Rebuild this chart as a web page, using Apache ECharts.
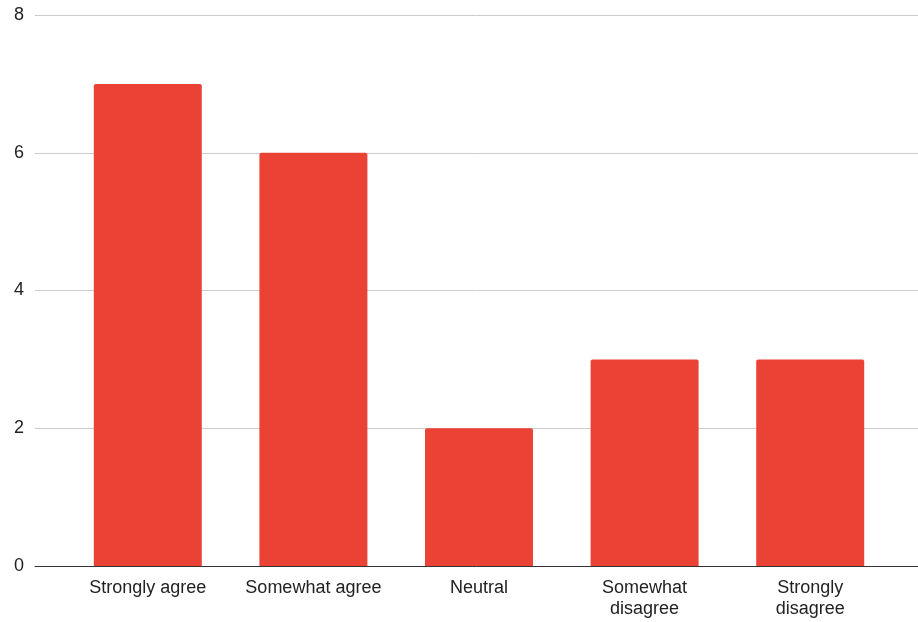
<!DOCTYPE html>
<html>
<head>
<meta charset="utf-8">
<script src="https://cdn.jsdelivr.net/npm/echarts@6/dist/echarts.min.js"></script>
<style>
  html, body { margin: 0; padding: 0; background: #fff; }
  #chart { width: 918px; height: 622px; }
</style>
</head>
<body>
<div id="chart"></div>
<script>
// survey answers
const categories = ['Strongly agree', 'Somewhat agree', 'Neutral', 'Somewhat\ndisagree', 'Strongly\ndisagree']
const counts = [7, 6, 2, 3, 3]
const yTicks = [0, 2, 4, 6, 8]

const font = 'Liberation Sans, Arial, sans-serif'
const textColor = '#222'

let chart = echarts.init(document.getElementById('chart'))

chart.setOption({
  animation: false,
  // grid 0 carries the gridlines + y labels across the full width,
  // grid 1 is narrower and holds the bars
  grid: [
    { left: 35, right: 0, top: 15, bottom: 56 },
    { left: 65, right: 25, top: 15, bottom: 56 },
  ],
  xAxis: [
    {
      gridIndex: 0,
      type: 'value',
      min: 0,
      max: 1,
      axisLine: { show: true, onZero: false, lineStyle: { color: '#333', width: 1 } },
      axisTick: { show: false },
      axisLabel: { show: false },
      splitLine: { show: false },
    },
    {
      gridIndex: 1,
      type: 'category',
      data: categories,
      axisLine: { show: false },
      axisTick: { show: false },
      axisLabel: {
        interval: 0,
        margin: 12,
        color: textColor,
        fontFamily: font,
        fontSize: 18,
        lineHeight: 21,
      },
    },
  ],
  yAxis: [
    {
      gridIndex: 0,
      type: 'value',
      min: yTicks[0],
      max: yTicks[yTicks.length - 1],
      interval: 2,
      axisLine: { show: false },
      axisTick: { show: false },
      axisLabel: { margin: 11, color: textColor, fontFamily: font, fontSize: 18 },
      splitLine: { lineStyle: { color: '#ccc', width: 1 } },
    },
    {
      gridIndex: 1,
      type: 'value',
      min: yTicks[0],
      max: yTicks[yTicks.length - 1],
      show: false,
      splitLine: { show: false },
    },
  ],
  series: [
    {
      type: 'bar',
      xAxisIndex: 1,
      yAxisIndex: 1,
      data: counts,
      barWidth: 108,
      itemStyle: { color: '#EA4335', borderRadius: [2, 2, 0, 0] },
    },
  ],
})

window.addEventListener('resize', () => {
  chart.resize()
})
</script>
</body>
</html>
